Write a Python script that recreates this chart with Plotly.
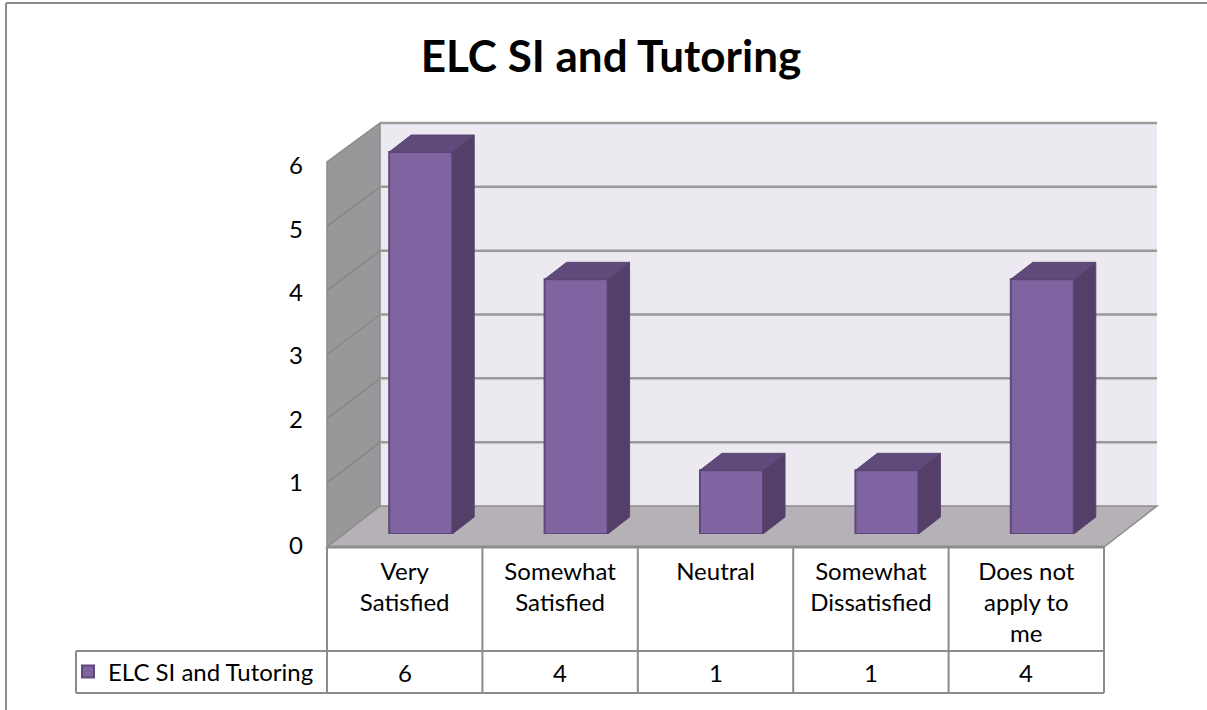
import plotly.graph_objects as go

W, H = 1207, 710
title = "ELC SI and Tutoring"
series_name = "ELC SI and Tutoring"
categories = ["Very<br>Satisfied", "Somewhat<br>Satisfied", "Neutral", "Somewhat<br>Dissatisfied", "Does not<br>apply to<br>me"]
values = [6, 4, 1, 1, 4]
y_ticks = [0, 1, 2, 3, 4, 5, 6]

FONT = "Lato, Carlito, Calibri, sans-serif"
GRAY = "#8c8c8c"
px = lambda x: x / W
py = lambda y: 1 - y / H

# pixel layout of the pseudo-3D box
FX0, FX1, FY0, FY1 = 327, 1104, 547, 162     # front plane
BX0, BX1, BY0, BY1 = 380, 1157, 506, 123     # back plane
CAT_W = (FX1 - FX0) / len(categories)
UNIT = (534 - 152) / 6
BAR_W = 63 / CAT_W
DX, DY = 22 / CAT_W, 17 / UNIT
YMAX = 6.4

idx = list(range(len(categories)))

top_x, top_y, side_x, side_y = [], [], [], []
for i, v in zip(idx, values):
    l, r = i - BAR_W / 2, i + BAR_W / 2
    top_x += [l, r, r + DX, l + DX, l, None]
    top_y += [v, v, v + DY, v + DY, v, None]
    side_x += [r, r, r + DX, r + DX, r, None]
    side_y += [0, v, v + DY, DY, 0, None]

fig = go.Figure()
fig.add_trace(go.Bar(x=idx, y=values, width=BAR_W, name=series_name, xaxis="x", yaxis="y",
                     marker=dict(color="#8064A2", line=dict(color="#5F497A", width=2)),
                     showlegend=True, hoverinfo="skip"))
fig.add_trace(go.Scatter(x=side_x, y=side_y, mode="lines", fill="toself", fillcolor="#533F68",
                         line=dict(color="#57436E", width=1), showlegend=False, hoverinfo="skip"))
fig.add_trace(go.Scatter(x=top_x, y=top_y, mode="lines", fill="toself", fillcolor="#604A7B",
                         line=dict(color="#5A4573", width=1), showlegend=False, hoverinfo="skip"))
# invisible carrier for the front-plane axes
fig.add_trace(go.Scatter(x=idx, y=values, xaxis="x2", yaxis="y2", mode="markers",
                         marker=dict(opacity=0), showlegend=False, hoverinfo="skip"))


def poly(points, fill, line=GRAY, width=1.5):
    d = "M" + " L".join(f"{px(x)},{py(y)}" for x, y in points) + " Z"
    return dict(type="path", xref="paper", yref="paper", path=d, fillcolor=fill,
                line=dict(color=line, width=width), layer="below")


def seg(x0, y0, x1, y1, width=2, color=GRAY, layer="below"):
    return dict(type="line", xref="paper", yref="paper", x0=px(x0), y0=py(y0), x1=px(x1), y1=py(y1),
                line=dict(color=color, width=width), layer=layer)


shapes = [
    # outer frame
    seg(6, 3, 6, 710), seg(6, 3, W, 3),
    # back wall, left wall, floor
    dict(type="rect", xref="paper", yref="paper", x0=px(BX0), x1=px(BX1), y0=py(BY0), y1=py(BY1),
         fillcolor="#ECE9F1", line=dict(width=0), layer="below"),
    poly([(FX0, FY0), (FX0, FY1), (BX0, BY1), (BX0, BY0)], "#999799"),
    poly([(FX0, FY0), (BX0, BY0), (BX1, BY0), (FX1, FY0)], "#B5B1B6"),
    seg(BX0, BY1, BX1, BY1, 2.5, "#9a9a9a"),
    seg(FX0, FY0, FX1, FY0, 3),
]
for t in y_ticks[1:-1]:
    by = BY0 + (BY1 - BY0) * t / 6
    fy = FY0 + (FY1 - FY0) * t / 6
    shapes.append(seg(BX0, by, BX1, by, 2.5, "#9a9a9a"))
    shapes.append(seg(FX0, fy, BX0, by, 1.5, "#878787"))

# data table grid
TBL_R1, TBL_R2, TBL_L = 651, 693, 76
for k in range(len(categories) + 1):
    x = FX0 + CAT_W * k
    shapes.append(seg(x, FY0, x, TBL_R2))
shapes += [seg(TBL_L, TBL_R1, FX1, TBL_R1), seg(TBL_L, TBL_R2, FX1, TBL_R2), seg(TBL_L, TBL_R1, TBL_L, TBL_R2)]

annotations = [dict(text=str(v), x=i, xref="x2", y=py(672), yref="paper", showarrow=False,
                    font=dict(family=FONT, size=24, color="black"), xanchor="center", yanchor="middle")
               for i, v in zip(idx, values)]

fig.update_layout(
    width=W, height=H, autosize=False, margin=dict(l=0, r=0, t=0, b=0, pad=0, autoexpand=False),
    paper_bgcolor="white", plot_bgcolor="rgba(0,0,0,0)",
    title=dict(text=f"<b>{title}</b>", x=611 / W, xanchor="center", y=py(57), yanchor="middle",
               font=dict(family=FONT, size=44, color="black")),
    xaxis=dict(domain=[px(FX0 + 16), px(FX1 + 16)], range=[-0.5, 4.5], visible=False, anchor="y"),
    yaxis=dict(domain=[py(534), py(534 - YMAX * UNIT)], range=[0, YMAX], visible=False, anchor="x"),
    xaxis2=dict(domain=[px(FX0), px(FX1)], range=[-0.5, 4.5], anchor="y2",
                tickvals=idx, ticktext=categories, showgrid=False, zeroline=False, showline=False,
                ticks="", ticklabelstandoff=9, tickangle=0,
                tickfont=dict(family=FONT, size=24, color="black")),
    yaxis2=dict(domain=[py(546), py(166)], range=[0, 6], anchor="x2",
                tickvals=y_ticks, showgrid=False, zeroline=False, showline=False,
                ticks="", ticklabelstandoff=23,
                tickfont=dict(family=FONT, size=24, color="black")),
    legend=dict(x=px(68), xanchor="left", y=py(672), yanchor="middle",
                bgcolor="rgba(0,0,0,0)", font=dict(family=FONT, size=24, color="black"), borderwidth=0),
    showlegend=True, shapes=shapes, annotations=annotations,
)

fig.write_html("out.html", post_script="document.body.style.margin='0';",
               config={"displayModeBar": False})
